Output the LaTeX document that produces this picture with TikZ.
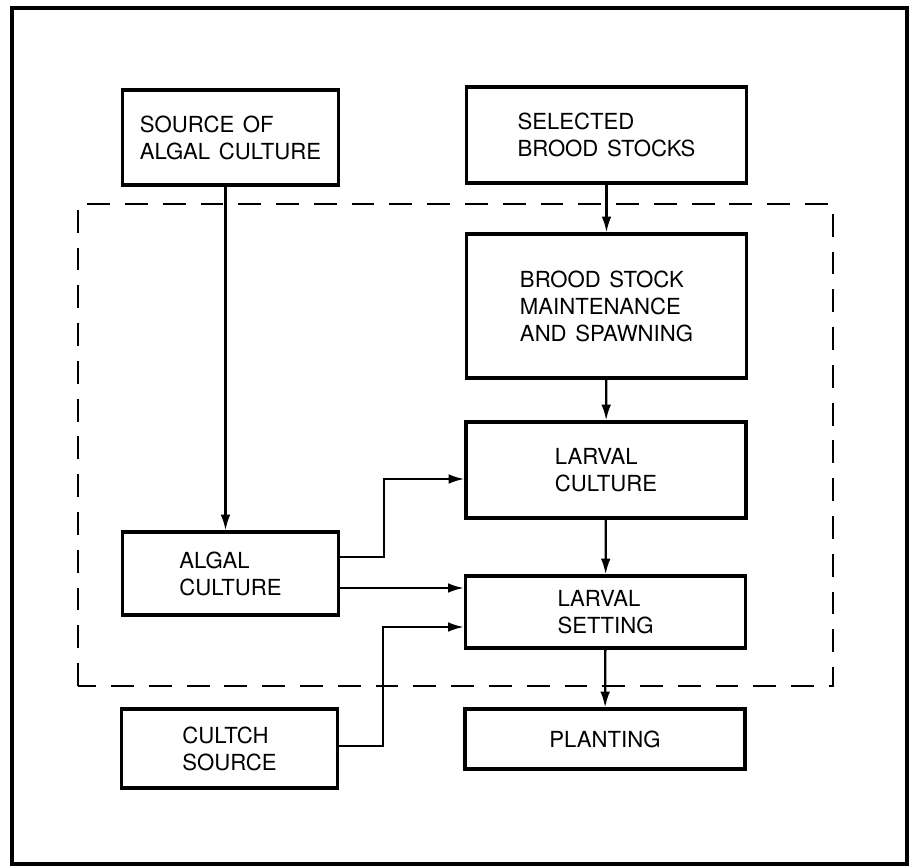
\documentclass[tikz,border=0pt]{standalone}
\usepackage{fontspec}
\setmainfont[WordSpace=1.4]{TeX Gyre Heros}
\usetikzlibrary{positioning,arrows.meta}
\tikzset{every picture/.style={>={Latex[length=9pt,width=5.5pt]}}}

\begin{document}
\begin{tikzpicture}[
    stage/.style={draw, line width=1.8pt, align=left, inner sep=0pt,
        font=\fontsize{12.6}{15.4}\selectfont},
    lcol/.style={stage, minimum width=4.33cm},
    rcol/.style={stage, minimum width=5.6cm},
    flow/.style={->, line width=1.3pt}
]
    \useasboundingbox (0,0) rectangle (18.28,17.34);
    % outer frame
    \draw[line width=2.4pt] (0.24,0.06) rectangle (18.14,17.18);

    % hatchery boundary
    \draw[line width=1.5pt, dash pattern=on 13pt off 8.5pt]
        (1.56,3.62) rectangle (16.66,13.26);

    % left column
    \node[lcol, minimum height=1.90cm] (src) at (4.61,14.59)
        {SOURCE OF\\ALGAL CULTURE};
    \node[lcol, minimum height=1.66cm] (alg) at (4.61,5.87)
        {ALGAL\\CULTURE};
    \node[lcol, minimum height=1.58cm] (cultch) at (4.59,2.37)
        {CULTCH\\SOURCE};

    % right column
    \node[rcol, minimum height=1.92cm] (sel) at (12.13,14.64)
        {SELECTED\\BROOD STOCKS};
    \node[rcol, minimum height=2.88cm] (brood) at (12.13,11.22)
        {BROOD STOCK\\MAINTENANCE\\AND SPAWNING};
    \node[rcol, minimum height=1.92cm] (lcult) at (12.12,7.94)
        {LARVAL\\CULTURE};
    \node[rcol, minimum height=1.44cm] (lset) at (12.11,5.10)
        {LARVAL\\SETTING};
    \node[rcol, minimum height=1.20cm] (plant) at (12.10,2.56)
        {PLANTING};

    % main flow
    \draw[flow] ([xshift=-1mm]src.south) -- ([xshift=-1mm]alg.north);
    \draw[flow] (sel) -- (brood);
    \draw[flow] (brood) -- (lcult);
    \draw[flow] (lcult) -- (lset);
    \draw[flow] (lset) -- (plant);

    % feeds into larval stages
    \draw[flow] ([yshift=3.3mm]alg.east) -- ++(0.88,0)
        |- ([yshift=-1.8mm]lcult.west);
    \draw[flow] ([yshift=-2.9mm]alg.east)
        -- ([yshift=-2.9mm]alg.east -| lset.west);
    \draw[flow] ([yshift=0.5mm]cultch.east) -- ++(0.88,0)
        |- ([yshift=-3mm]lset.west);
\end{tikzpicture}
\end{document}
